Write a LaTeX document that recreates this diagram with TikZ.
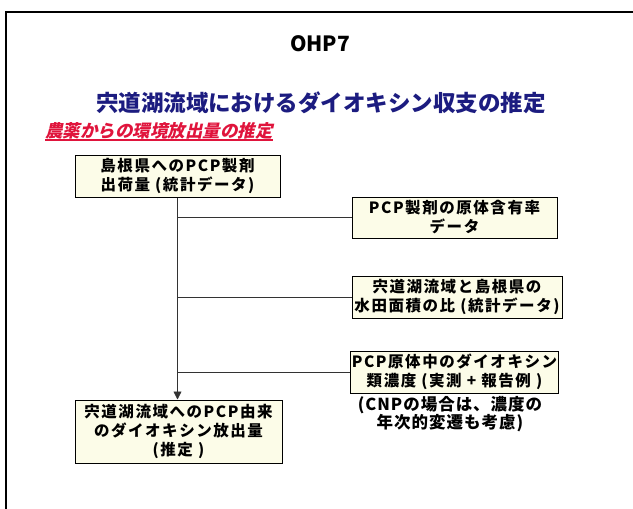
\documentclass[tikz,border=0pt]{standalone}
\usepackage{fontspec}
\setmainfont{Noto Sans CJK JP}
\newfontfamily\slantjp[FakeSlant=0.22]{Noto Sans CJK JP}
\newfontfamily\boxjp[LetterSpace=10]{Noto Sans CJK JP}
\newfontfamily\notejp[LetterSpace=6]{Noto Sans CJK JP}
\usetikzlibrary{arrows.meta}
\definecolor{boxfill}{HTML}{FCFCE8}
\definecolor{navy}{HTML}{1C1C80}
\definecolor{crimson}{HTML}{E0143C}
\tikzset{box/.style={draw=black, line width=1pt, fill=boxfill, align=center, inner sep=1pt, font=\fontsize{15.5}{19}\selectfont\boxjp\bfseries}}
\tikzset{link/.style={draw=black!80, line width=0.8pt}}

\begin{document}
\begin{tikzpicture}[x=1pt,y=-1pt]
  \useasboundingbox (0,0) rectangle (633,509);
  \clip (0,0) rectangle (633,509);
  \fill[white] (0,0) rectangle (633,509);
  \draw[line width=1.8pt] (6,12) rectangle (660,540);
  \node (ohp) at (320,44) {\fontsize{21}{24}\selectfont\bfseries OHP7};
  \node[navy] (title) at (321,103) {\fontsize{22.5}{26}\selectfont\bfseries 宍道湖流域におけるダイオキシン収支の推定};
  \node[crimson, anchor=west, inner sep=0pt] (sub) at (45,131) {\fontsize{17.5}{20}\selectfont\slantjp\bfseries 農薬からの環境放出量の推定};
  \draw[crimson, line width=1.4pt] ([yshift=-0.5pt]sub.south west) -- ([yshift=-0.5pt]sub.south east);
  \node[box, minimum width=205pt, minimum height=42pt] (ship) at (177.5,176) {島根県へのPCP製剤\\出荷量 (統計データ)};
  \node[box, minimum width=205pt, minimum height=41pt] (ratio) at (454.5,217.5) {PCP製剤の原体含有率\\データ};
  \node[box, minimum width=210pt, minimum height=42pt] (area) at (457,297) {宍道湖流域と島根県の\\水田面積の比 (統計データ)};
  \node[box, minimum width=205pt, minimum height=42pt] (conc) at (454.5,372) {PCP原体中のダイオキシン\\類濃度 (実測 + 報告例 )};
  \node[align=center, inner sep=0pt, font=\fontsize{16.5}{17.5}\selectfont\notejp\bfseries] (note) at (450,414) {(CNPの場合は、濃度の\\年次的変遷も考慮)};
  \node[box, minimum width=207pt, minimum height=63pt] (emis) at (178.5,431.5) {宍道湖流域へのPCP由来\\のダイオキシン放出量\\(推定 )};
  % trunk and branches
  \draw[link, -{Triangle[length=8pt,width=8pt]}] (ship.south) -- (ship.south |- emis.north);
  \draw[link] (ship.south |- ratio.west) -- (ratio.west);
  \draw[link] (ship.south |- area.west) -- (area.west);
  \draw[link] (ship.south |- conc.west) -- (conc.west);
\end{tikzpicture}
\end{document}
